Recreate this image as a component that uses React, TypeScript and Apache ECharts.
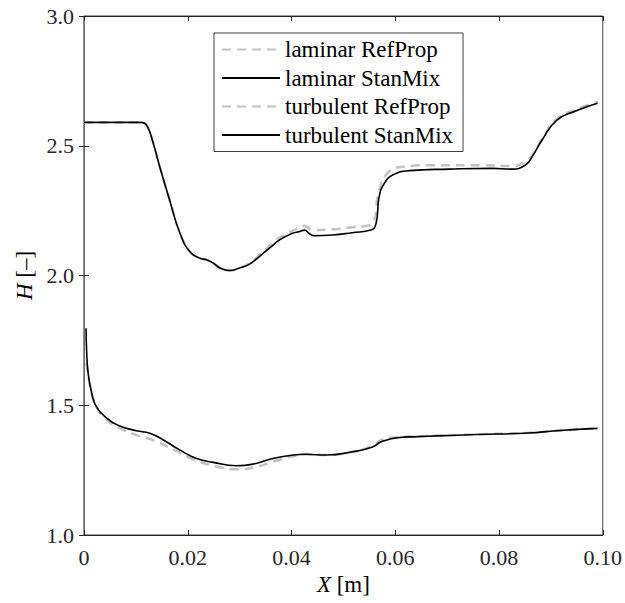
import React, { useEffect, useRef } from "react";
import * as echarts from "echarts";

// ---- data ----
const seriesNames = ["laminar RefProp", "laminar StanMix", "turbulent RefProp", "turbulent StanMix"];

const laminarStanMixX = [0, 0.0105, 0.01135, 0.0122, 0.0132, 0.0146, 0.0165, 0.0185, 0.0204, 0.0223, 0.0237, 0.0249, 0.0262, 0.0281, 0.030, 0.0319, 0.0338, 0.0358, 0.0377, 0.0402, 0.0415, 0.0425, 0.0434, 0.0444, 0.0479, 0.0517, 0.0553, 0.0563, 0.0569, 0.0579, 0.0595, 0.0627, 0.0704, 0.0787, 0.0825, 0.0851, 0.0864, 0.0883, 0.0911, 0.0949, 0.0990];
const laminarStanMixH = [2.59, 2.59, 2.589, 2.575, 2.52, 2.419, 2.291, 2.163, 2.092, 2.067, 2.06, 2.048, 2.029, 2.019, 2.029, 2.044, 2.073, 2.106, 2.137, 2.163, 2.169, 2.175, 2.162, 2.153, 2.156, 2.165, 2.175, 2.201, 2.304, 2.355, 2.387, 2.404, 2.41, 2.413, 2.41, 2.426, 2.458, 2.522, 2.598, 2.635, 2.664];

const laminarRefPropX = [0, 0.0105, 0.01135, 0.0122, 0.0132, 0.0146, 0.0165, 0.0185, 0.0204, 0.0223, 0.0237, 0.0249, 0.0262, 0.0281, 0.030, 0.0319, 0.0338, 0.0364, 0.0385, 0.0405, 0.0425, 0.0441, 0.0479, 0.0517, 0.0553, 0.0569, 0.0585, 0.0614, 0.0671, 0.0768, 0.0825, 0.0845, 0.0864, 0.0883, 0.0911, 0.0949, 0.0990];
const laminarRefPropH = [2.59, 2.59, 2.589, 2.575, 2.52, 2.419, 2.291, 2.163, 2.092, 2.067, 2.06, 2.048, 2.029, 2.019, 2.029, 2.046, 2.078, 2.125, 2.155, 2.175, 2.191, 2.175, 2.178, 2.186, 2.198, 2.329, 2.394, 2.419, 2.425, 2.425, 2.422, 2.432, 2.464, 2.525, 2.602, 2.64, 2.669];

const turbulentStanMixX = [0.0004, 0.0005, 0.0008, 0.0015, 0.0024, 0.0044, 0.0069, 0.0101, 0.0127, 0.0153, 0.0185, 0.0217, 0.0249, 0.0294, 0.0326, 0.0364, 0.0403, 0.0428, 0.0467, 0.0518, 0.0555, 0.0574, 0.0604, 0.0643, 0.0681, 0.0757, 0.0857, 0.0911, 0.0990];
const turbulentStanMixH = [1.797, 1.713, 1.623, 1.546, 1.494, 1.45, 1.42, 1.402, 1.392, 1.366, 1.327, 1.295, 1.28, 1.267, 1.273, 1.295, 1.308, 1.311, 1.308, 1.321, 1.338, 1.36, 1.375, 1.379, 1.382, 1.387, 1.393, 1.402, 1.411];

const turbulentRefPropX = [0.0005, 0.0012, 0.0021, 0.0037, 0.0063, 0.0101, 0.0133, 0.0172, 0.021, 0.0249, 0.0294, 0.0326, 0.0364, 0.0403, 0.0428, 0.0467, 0.0518, 0.0559, 0.0574, 0.0604, 0.0643, 0.0681, 0.0757, 0.0857, 0.0911, 0.0990];
const turbulentRefPropH = [1.662, 1.572, 1.508, 1.456, 1.418, 1.385, 1.366, 1.33, 1.292, 1.267, 1.253, 1.259, 1.282, 1.304, 1.311, 1.308, 1.321, 1.346, 1.367, 1.377, 1.38, 1.383, 1.388, 1.394, 1.402, 1.411];

const xTicks = [0, 0.02, 0.04, 0.06, 0.08, 0.1];
const yTicks = [1.0, 1.5, 2.0, 2.5, 3.0];

const pairs = (xs: number[], ys: number[]) => xs.map((x, i) => [x, ys[i]]);

const FONT = "Times New Roman, Liberation Serif, DejaVu Serif, serif";

export default function App() {
  const ref = useRef<HTMLDivElement>(null);
  useEffect(() => {
    if (!ref.current) return;
    const chart = echarts.init(ref.current, undefined, { renderer: "svg" });
    const gray = "#c2c2c2";
    const mkLine = (name: string, data: number[][], dashed: boolean) => ({
      name,
      type: "line",
      data,
      symbol: "none",
      showSymbol: false,
      smooth: 0.5,
      z: dashed ? 2 : 3,
      lineStyle: dashed
        ? { color: gray, width: 2.5, type: [9, 6] }
        : { color: "#000", width: 1.6, type: "solid" },
      itemStyle: { color: dashed ? gray : "#000" },
    });
    const xMin = xTicks[0];
    const xMax = xTicks[xTicks.length - 1];
    const yMin = yTicks[0];
    const yMax = yTicks[yTicks.length - 1];
    const axisCommon = {
      type: "value",
      axisTick: { show: true, inside: true, length: 5, lineStyle: { color: "#262626" } },
      splitLine: { show: false },
    };
    chart.setOption({
      animation: false,
      backgroundColor: "#fff",
      textStyle: { fontFamily: FONT },
      grid: {
        left: 84, top: 16, width: 520, height: 519,
        show: true, borderColor: "#404040", borderWidth: 1, backgroundColor: "transparent",
      },
      legend: {
        show: true,
        orient: "vertical",
        left: 214,
        top: 33,
        data: seriesNames,
        itemWidth: 58,
        itemHeight: 14,
        itemGap: 5.5,
        padding: [5, 10, 5, 7],
        backgroundColor: "#fff",
        borderColor: "#404040",
        borderWidth: 1,
        borderRadius: 0,
        itemStyle: { opacity: 0 },
        textStyle: { fontFamily: FONT, fontSize: 23, color: "#000", lineHeight: 22 },
      },
      xAxis: [
        {
          ...axisCommon,
          min: xMin, max: xMax, interval: 0.02,
          position: "bottom",
          axisLine: { show: true, lineStyle: { color: "#262626", width: 1 } },
          axisLabel: {
            fontFamily: FONT, fontSize: 22, color: "#262626", margin: 11,
            formatter: (v: number) => (v === 0 ? "0" : v.toFixed(2)),
          },
          name: "{i|X} [m]",
          nameLocation: "middle",
          nameGap: 36,
          nameTextStyle: {
            fontFamily: FONT, fontSize: 23, color: "#000",
            rich: { i: { fontFamily: FONT, fontSize: 23, fontStyle: "italic", color: "#000" } },
          },
        },
        {
          ...axisCommon,
          min: xMin, max: xMax, interval: 0.02,
          position: "top",
          axisLine: { show: true, lineStyle: { color: "#262626", width: 1 } },
          axisLabel: { show: false },
        },
      ],
      yAxis: [
        {
          ...axisCommon,
          min: yMin, max: yMax, interval: 0.5,
          position: "left",
          axisLine: { show: true, lineStyle: { color: "#8a8a8a", width: 1.5 } },
          axisLabel: {
            fontFamily: FONT, fontSize: 22, color: "#262626", margin: 10,
            formatter: (v: number) => v.toFixed(1),
          },
          name: "{i|H} [–]",
          nameLocation: "middle",
          nameGap: 44,
          nameRotate: 90,
          nameTextStyle: {
            fontFamily: FONT, fontSize: 23, color: "#000",
            rich: { i: { fontFamily: FONT, fontSize: 23, fontStyle: "italic", color: "#000" } },
          },
        },
        {
          ...axisCommon,
          min: yMin, max: yMax, interval: 0.5,
          position: "right",
          axisLine: { show: true, lineStyle: { color: "#6a6a6a", width: 1 } },
          axisLabel: { show: false },
        },
      ],
      series: [
        mkLine(seriesNames[0], pairs(laminarRefPropX, laminarRefPropH), true),
        mkLine(seriesNames[1], pairs(laminarStanMixX, laminarStanMixH), false),
        mkLine(seriesNames[2], pairs(turbulentRefPropX, turbulentRefPropH), true),
        mkLine(seriesNames[3], pairs(turbulentStanMixX, turbulentStanMixH), false),
      ],
    });
    return () => chart.dispose();
  }, []);
  return (
    <div
      ref={ref}
      style={{ position: "fixed", left: 0, top: 0, width: 625, height: 603, background: "#fff" }}
    />
  );
}
